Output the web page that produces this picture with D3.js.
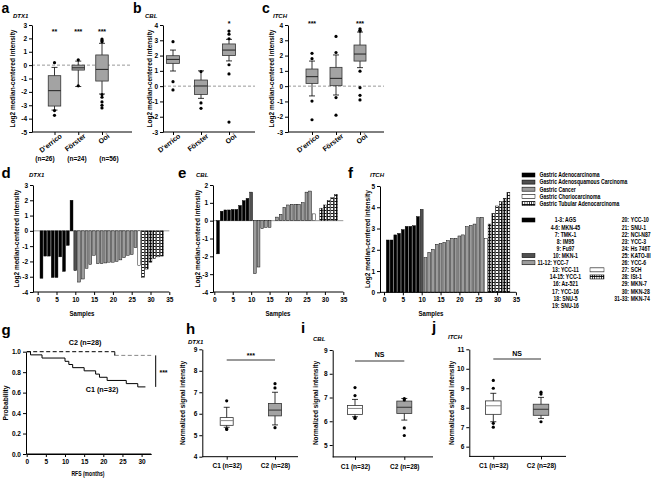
<!DOCTYPE html>
<html><head><meta charset="utf-8">
<script src="https://cdn.jsdelivr.net/npm/d3@7/dist/d3.min.js"></script>
<style>html,body{margin:0;padding:0;background:#fff}svg{display:block}</style>
</head><body>
<svg id="fig" width="667" height="478" xmlns="http://www.w3.org/2000/svg"></svg>
<script>
// ---------------- DATA ----------------
const cohorts = ["D'errico", "Förster", "Ooi"];
const cohortN = ["(n=26)", "(n=24)", "(n=56)"];
const dtx1CohortBox = [
  {lo:-3.36, q1:-3.06, med:-1.91, q3:-0.79, hi:-0.17, out:[0.18,-3.4,-3.75]},
  {lo:-1.6,  q1:-0.37, med:-0.2,  q3:0.0,   hi:0.3,   out:[0.4,-1.55]},
  {lo:-2.16, q1:-1.19, med:-0.32, q3:0.76,  hi:1.63,  out:[1.95,1.85,1.75,-2.2,-2.4,-2.75,-3.0,-3.2]}
];
const dtx1CohortSig = ["**", "***", "***"];
const cblCohortBox = [
  {lo:0.99,  q1:1.49,  med:1.75, q3:1.99, hi:2.36, out:[2.91,0.29,-0.25]},
  {lo:-0.8,  q1:-0.54, med:0.01, q3:0.4,  hi:1.0,  out:[0.95,-1.1,-1.45]},
  {lo:1.65,  q1:2.0,   med:2.36, q3:2.76, hi:3.06, out:[3.6,3.4,3.1,1.4,0.8,-2.35]}
];
const cblCohortSig = ["", "", "*"];
const itchCohortBox = [
  {lo:-0.64, q1:0.18, med:0.62, q3:1.12, hi:1.64, out:[2.15,1.8,-0.98,-2.2]},
  {lo:-0.58, q1:0.03, med:0.51, q3:1.23, hi:2.04, out:[3.25,2.2,-0.75,-1.9]},
  {lo:1.21,  q1:1.64, med:2.1,  q3:2.69, hi:3.54, out:[3.75,3.65,3.6,0.98,-0.1,-0.6,-0.9]}
];
const itchCohortSig = ["***", "", "***"];

const histTypes = ["Gastric Adenocarcinoma","Gastric Adenosquamous Carcinoma","Gastric Cancer","Gastric Choriocarcinoma","Gastric Tubular Adenocarcinoma"];
const sampleType = [0,0,0,0,0,0,0,0,0,1,2,2,2,2,2,2,2,2,2,2,2,2,2,2,2,2,3,4,4,4,4,4,4];
const dtx1Cell = [-3.1,-1.65,-1.65,-3.05,-3.05,-1.7,-2.65,-0.95,2.0,-2.6,-3.35,-3.15,-2.45,-2.2,-1.6,-2.15,-2.15,-2.1,-2.05,-2.05,-2.0,-1.9,-1.75,-1.6,-1.55,-1.1,-2.25,-3.05,-2.5,-2.05,-1.8,-1.7,-1.65];
const cblCell  = [-1.86,0.53,0.6,0.6,0.63,0.63,0.85,1.12,1.25,1.6,-2.97,-2.6,-0.45,-0.38,-0.38,0.0,0.2,0.36,0.75,0.88,0.92,0.92,0.92,1.01,1.6,1.66,0.38,0.0,0.7,0.88,1.12,1.3,1.48];
const itchCell = [2.46,2.46,2.7,2.77,2.95,3.1,3.1,3.13,3.56,3.9,1.63,1.88,2.02,2.26,2.3,2.35,2.43,2.54,2.54,2.65,2.7,3.09,3.15,3.21,3.51,3.53,2.54,3.21,3.71,4.06,4.26,4.42,4.7];
const sampleTicks = [0,5,10,15,20,25,30,35];

const cellLeft = [["1-3","AGS"],["4-6","MKN-45"],["7","TMK-1"],["8","IM95"],["9","Fu97"],["10","MKN-1"],["11-12","YCC-7"],["13","YCC-11"],["14-15","YCC-1"],["16","Az-521"],["17","YCC-16"],["18","SNU-5"],["19","SNU-16"]];
const cellRight = [["20","YCC-10"],["21","SNU-1"],["22","NCI-N87"],["23","YCC-3"],["24","Hs 746T"],["25","KATO-III"],["26","YCC-6"],["27","SCH"],["28","ISt-1"],["29","MKN-7"],["30","MKN-28"],["31-33","MKN-74"]];

const kmC1Time = [0,1,4,10,11,12,15,18,19,21,26,29,31];
const kmC1Surv = [1,0.969,0.938,0.906,0.875,0.844,0.813,0.781,0.75,0.719,0.688,0.656,0.656];
const kmC2Time = [0,23,32.5];
const kmC2Surv = [1,0.964,0.964];
const kmXTicks = [0,5,10,15,20,25,30];
const kmYTicks = [0,0.2,0.4,0.6,0.8,1.0];

const clusters = ["C1 (n=32)", "C2 (n=28)"];
const dtx1Cluster = [
  {lo:5.37, q1:5.46, med:5.68, q3:5.82, hi:6.3, out:[6.6,5.3,5.27]},
  {lo:5.48, q1:5.9,  med:6.17, q3:6.48, hi:7.0, out:[7.4,7.2,5.35]}
];
const cblCluster = [
  {lo:6.19, q1:6.29, med:6.54, q3:6.66, hi:6.92, out:[7.42,7.08,6.15,6.12]},
  {lo:6.05, q1:6.33, med:6.59, q3:6.85, hi:6.96, out:[6.95,6.9,5.72,5.4]}
];
const itchCluster = [
  {lo:7.28, q1:7.66, med:8.1,  q3:8.35, hi:8.74, out:[9.4,9.0,7.2,7.0]},
  {lo:7.45, q1:7.61, med:7.92, q3:8.18, hi:8.53, out:[8.8,8.7,7.28]}
];
const clusterSig = ["***", "NS", "NS"];

// ---------------- HELPERS ----------------
const F = '"Liberation Sans", Arial, Helvetica, sans-serif';
const svg = d3.select("#fig").attr("font-family", F);
const defs = svg.append("defs");
const pat = defs.append("pattern").attr("id","hatch").attr("patternUnits","userSpaceOnUse").attr("width",3).attr("height",3);
pat.append("rect").attr("width",3).attr("height",3).attr("fill","#fff");
pat.append("path").attr("d","M0,0.5H3M0.5,0V3").attr("stroke","#000").attr("stroke-width",0.9);
const typeFill = ["#000","#505050","#9c9c9c","#fff","url(#hatch)"];

function label(g, x, y, s, o = {}) {
  const t = g.append("text").attr("x", x).attr("y", y).text(s)
    .attr("font-size", o.size || 6.5).attr("font-weight", o.weight || "bold")
    .attr("text-anchor", o.anchor || "start").attr("fill", o.fill || "#000");
  if (o.italic) t.attr("font-style", "italic");
  if (o.rotate != null) t.attr("transform", `rotate(${o.rotate},${x},${y})`);
  if (o.len) t.attr("textLength", o.len).attr("lengthAdjust", "spacingAndGlyphs");
  return t;
}
function finish(a, size) {
  a.attr("font-family", F).attr("font-size", size || 6.5).attr("font-weight", "bold");
  a.selectAll("path.domain").attr("stroke", "#000").attr("stroke-width", 1);
  a.selectAll(".tick line").attr("stroke", "#000");
  a.selectAll(".tick text").attr("fill", "#000");
  return a;
}
function yAxis(g, y, x, ticks, fmt) {
  return finish(g.append("g").attr("transform", `translate(${x},0)`)
    .call(d3.axisLeft(y).tickValues(ticks).tickSize(3).tickSizeOuter(0).tickPadding(2).tickFormat(fmt || (d => String(d)))));
}
function hline(g, x1, x2, yv, stroke, w, dash) {
  const l = g.append("line").attr("x1", x1).attr("x2", x2).attr("y1", yv).attr("y2", yv)
    .attr("stroke", stroke || "#000").attr("stroke-width", w || 1);
  if (dash) l.attr("stroke-dasharray", dash);
  return l;
}
function drawBoxes(g, x, y, cats, stats, o) {
  stats.forEach((s, i) => {
    const cx = x(cats[i]);
    g.append("line").attr("x1", cx).attr("x2", cx).attr("y1", y(s.lo)).attr("y2", y(s.hi))
      .attr("stroke", "#000").attr("stroke-width", 0.8);
    [s.lo, s.hi].forEach(v => hline(g, cx - o.cap / 2, cx + o.cap / 2, y(v), "#000", 0.8));
    g.append("rect").attr("x", cx - o.w / 2).attr("width", o.w)
      .attr("y", y(s.q3)).attr("height", y(s.q1) - y(s.q3))
      .attr("fill", o.fill[i]).attr("stroke", "#333").attr("stroke-width", 0.8);
    hline(g, cx - o.w / 2, cx + o.w / 2, y(s.med), o.med[i], 1);
    g.selectAll(null).data(s.out).join("circle")
      .attr("cx", cx).attr("cy", v => y(v)).attr("r", 1.6).attr("fill", "#000");
  });
}

// ---------------- TOP ROW: cohort box plots ----------------
function cohortPanel(cfg) {
  const g = svg.append("g");
  const y = d3.scaleLinear().domain(cfg.domain).range([cfg.yBot, cfg.yTop]);
  const x = d3.scalePoint().domain(cohorts).range(cfg.catPos);
  hline(g, cfg.axisX, cfg.axisEnd, y(0), "#999", 1, "3,2");
  drawBoxes(g, x, y, cohorts, cfg.stats, {w: cfg.boxW, cap: 6, fill: ["#a3a3a3","#a3a3a3","#a3a3a3"], med: ["#222","#222","#222"]});
  yAxis(g, y, cfg.axisX, d3.range(cfg.domain[0], cfg.domain[1] + 1));
  hline(g, cfg.axisX, cfg.axisEnd, cfg.yBot, "#000", 1);
  const xa = finish(g.append("g").attr("transform", `translate(0,${cfg.yBot})`)
    .call(d3.axisBottom(x).tickSize(3).tickFormat("")));
  xa.select("path.domain").remove();
  cohorts.forEach((c, i) => {
    const cx = x(c);
    label(g, cx + 8, cfg.yBot + 5, c, {anchor: "end", rotate: -38, size: 7});
    if (cfg.sig[i]) label(g, cx, cfg.sigY, cfg.sig[i], {anchor: "middle", size: 7});
  });
  label(g, cfg.letterX, 13, cfg.letter, {size: 14});
  label(g, cfg.geneX, 17.5, cfg.gene, {size: 6, italic: true});
  label(g, cfg.titleX, (cfg.yTop + cfg.yBot) / 2, "Log2 median-centered intensity", {anchor: "middle", rotate: -90, size: 6.5});
  return {g, x};
}
const pa = cohortPanel({axisX: 32, axisEnd: 132, yTop: 25, yBot: 132, domain: [-5, 3], catPos: [54.5, 102], boxW: 12.5,
  stats: dtx1CohortBox, sig: dtx1CohortSig, sigY: 33.5, letter: "a", letterX: 1.5, gene: "DTX1", geneX: 13, titleX: 15});
[45, 77, 109].forEach((px, i) => label(pa.g, px, 161, cohortN[i], {anchor: "middle", size: 6.5}));
cohortPanel({axisX: 163, axisEnd: 255, yTop: 25, yBot: 132, domain: [-3, 4], catPos: [173, 229], boxW: 13,
  stats: cblCohortBox, sig: cblCohortSig, sigY: 26, letter: "b", letterX: 133, gene: "CBL", geneX: 145, titleX: 151.5});
cohortPanel({axisX: 288, axisEnd: 384, yTop: 25, yBot: 132, domain: [-3, 4], catPos: [312, 360], boxW: 12,
  stats: itchCohortBox, sig: itchCohortSig, sigY: 26, letter: "c", letterX: 262, gene: "ITCH", geneX: 273, titleX: 274});

// ---------------- MIDDLE ROW: cell line bars ----------------
function barPanel(cfg) {
  const g = svg.append("g");
  const x = d3.scaleLinear().domain([0, 35]).range([cfg.x0, cfg.x0 + 35 * cfg.step]);
  const y = d3.scaleLinear().domain(cfg.domain).range([cfg.yBot, cfg.yTop]);
  if (cfg.domain[0] < 0) hline(g, cfg.axisX, x(35), y(0), "#999", 1);
  const bw = cfg.step * 0.76;
  g.selectAll(null).data(cfg.values).join("rect")
    .attr("x", (v, i) => x(i + 1) - bw / 2).attr("width", bw)
    .attr("y", v => Math.min(y(v), y(0))).attr("height", v => Math.abs(y(v) - y(0)))
    .attr("fill", (v, i) => typeFill[sampleType[i]]).attr("stroke", "#000").attr("stroke-width", 0.45);
  yAxis(g, y, cfg.axisX, d3.range(cfg.domain[0], cfg.domain[1] + 1));
  hline(g, cfg.axisX, x(35), cfg.yBot, "#000", 1);
  const xa = finish(g.append("g").attr("transform", `translate(0,${cfg.yBot})`)
    .call(d3.axisBottom(x).tickValues(sampleTicks).tickSize(3).tickPadding(2).tickFormat(d => String(d))));
  xa.select("path.domain").remove();
  label(g, cfg.samplesX, 316, "Samples", {anchor: "middle", size: 6.5, len: 25});
  label(g, cfg.letterX, 178, cfg.letter, {size: 15});
  label(g, cfg.geneX, 176.5, cfg.gene, {size: 6, italic: true});
  label(g, cfg.titleX, (cfg.yTop + cfg.yBot) / 2, "Log2 median-centered intensity", {anchor: "middle", rotate: -90, size: 6.5});
}
barPanel({axisX: 33, x0: 37.7, step: 3.76, yTop: 185, yBot: 292, domain: [-4, 3], values: dtx1Cell,
  letter: "d", letterX: 1.5, gene: "DTX1", geneX: 29, titleX: 19, samplesX: 82});
barPanel({axisX: 213, x0: 214.3, step: 3.686, yTop: 185, yBot: 292, domain: [-4, 2], values: cblCell,
  letter: "e", letterX: 178, gene: "CBL", geneX: 196, titleX: 199.5, samplesX: 278});
barPanel({axisX: 380, x0: 384, step: 3.77, yTop: 186, yBot: 292.3, domain: [0, 5], values: itchCell,
  letter: "f", letterX: 348, gene: "ITCH", geneX: 370, titleX: 370.5, samplesX: 431});

// ---------------- LEGEND ----------------
(function legend() {
  const ox = 520, sx = 0.75;
  const g = svg.append("g").attr("transform", `translate(${ox},0) scale(${sx},1)`);
  const lx = px => (px - ox) / sx;
  const sw = (x1, x2, cy, t) => g.append("rect").attr("x", lx(x1)).attr("width", lx(x2) - lx(x1))
    .attr("y", cy - 2).attr("height", 4).attr("fill", typeFill[t]).attr("stroke", "#000").attr("stroke-width", 0.6);
  histTypes.forEach((h, i) => {
    const cy = 175 + 7.1 * i;
    sw(522, 535, cy, i);
    label(g, lx(539.5), cy + 2.4, h, {size: 6.8});
  });
  cellLeft.forEach((c, i) => {
    const cy = 220 + 7.12 * i;
    if (c[0] === "11-12") label(g, lx(537.5), cy + 2.4, c[0] + ": " + c[1], {size: 6.8});
    else label(g, lx(565.5), cy + 2.4, c[0] + ": " + c[1], {size: 6.8, anchor: "middle"});
  });
  [[0, 0], [5, 1], [6, 2]].forEach(([r, t]) => sw(522, 535, 220 + 7.12 * r, t));
  cellRight.forEach((c, i) => {
    const cy = 220 + 7.12 * i;
    label(g, lx(629), cy + 2.4, c[0] + ":", {size: 6.8, anchor: "end"});
    label(g, lx(630.8), cy + 2.4, c[1], {size: 6.8});
  });
  [[7, 3], [8, 4]].forEach(([r, t]) => sw(590, 604, 220 + 7.12 * r, t));
})();

// ---------------- PANEL g: Kaplan-Meier ----------------
(function km() {
  const g = svg.append("g");
  const x = d3.scaleLinear().domain([0, 32.5]).range([26.7, 26.7 + 32.5 * 3.83]);
  const y = d3.scaleLinear().domain([0, 1]).range([454, 351.7]);
  const line = d3.line().curve(d3.curveStepAfter).x(d => x(d[0])).y(d => y(d[1]));
  const c1 = kmC1Time.map((t, i) => [t, kmC1Surv[i]]);
  const c2 = kmC2Time.map((t, i) => [t, kmC2Surv[i]]);
  g.append("path").attr("d", line(c2.slice(0, 2).concat([[kmC2Time[1], kmC2Surv[0]]]))).attr("fill", "none")
    .attr("stroke", "#000").attr("stroke-width", 1).attr("stroke-dasharray", "4,2.5");
  g.append("path").attr("d", line(c2.slice(1))).attr("fill", "none")
    .attr("stroke", "#888").attr("stroke-width", 1).attr("stroke-dasharray", "4,2.5");
  g.append("path").attr("d", line(c1)).attr("fill", "none").attr("stroke", "#000").attr("stroke-width", 1);
  yAxis(g, y, 26, kmYTicks, d => d.toFixed(1));
  finish(g.append("g").attr("transform", "translate(0,454)")
    .call(d3.axisBottom(x).tickValues(kmXTicks).tickSize(3).tickSizeOuter(0).tickPadding(2).tickFormat(d => String(d))));
  hline(g, 26, x(32.5), 454, "#000", 1);
  const bx = 155.7;
  g.append("line").attr("x1", bx).attr("x2", bx).attr("y1", y(kmC2Surv[2])).attr("y2", y(kmC1Surv[kmC1Surv.length - 1]))
    .attr("stroke", "#000").attr("stroke-width", 1);
  label(g, 163.5, 374.5, "***", {anchor: "middle", size: 7});
  label(g, 85, 345, "C2 (n=28)", {anchor: "middle", size: 7.2});
  label(g, 102, 392, "C1 (n=32)", {anchor: "middle", size: 7.2});
  label(g, x(16), 476, "RFS (months)", {anchor: "middle", size: 6.8, len: 33});
  label(g, 7.5, 403, "Probability", {anchor: "middle", rotate: -90, size: 6.8});
  label(g, 1.5, 335, "g", {size: 15});
})();

// ---------------- PANELS h, i, j: cluster box plots ----------------
function clusterPanel(cfg) {
  const g = svg.append("g");
  const y = d3.scaleLinear().domain(cfg.domain).range([cfg.yBot, cfg.yTop]);
  const x = d3.scalePoint().domain(clusters).range(cfg.catPos);
  drawBoxes(g, x, y, clusters, cfg.stats, {w: cfg.boxW, cap: 6, fill: ["#fff", "#a3a3a3"], med: ["#888", "#333"]});
  yAxis(g, y, cfg.axisX, cfg.ticks);
  hline(g, cfg.axisX, cfg.axisEnd, cfg.yBot, "#000", 1);
  const xa = finish(g.append("g").attr("transform", `translate(0,${cfg.yBot})`)
    .call(d3.axisBottom(x).tickSize(3).tickPadding(4).tickFormat(d => d)));
  xa.select("path.domain").remove();
  hline(g, x(clusters[0]), x(clusters[1]), cfg.sigLineY, "#777", 1.5);
  label(g, (x(clusters[0]) + x(clusters[1])) / 2, cfg.sigTextY, cfg.sig, {anchor: "middle", size: 7});
  label(g, cfg.letterX, cfg.letterY, cfg.letter, {size: 15});
  label(g, cfg.geneX, cfg.geneY, cfg.gene, {size: 6, italic: true});
  label(g, cfg.titleX, 403, "Normalized signal intensity", {anchor: "middle", rotate: -90, size: 6.5});
}
clusterPanel({axisX: 202.3, axisEnd: 298, yTop: 349.3, yBot: 456.7, domain: [4, 9], ticks: [4,5,6,7,8,9],
  catPos: [226.7, 275], boxW: 13, stats: dtx1Cluster, sig: clusterSig[0], sigLineY: 360, sigTextY: 358,
  letter: "h", letterX: 186, letterY: 334, gene: "DTX1", geneX: 188, geneY: 344, titleX: 185});
clusterPanel({axisX: 332.7, axisEnd: 433, yTop: 350, yBot: 456.9, domain: [4.5, 9], ticks: [5,6,7,8,9],
  catPos: [355, 404.3], boxW: 15, stats: cblCluster, sig: clusterSig[1], sigLineY: 361, sigTextY: 357,
  letter: "i", letterX: 301, letterY: 333, gene: "CBL", geneX: 313, geneY: 341, titleX: 317.5});
clusterPanel({axisX: 469.3, axisEnd: 566, yTop: 349.3, yBot: 456.4, domain: [5.5, 11], ticks: [6,7,8,9,10,11],
  catPos: [493.3, 541], boxW: 15.5, stats: itchCluster, sig: clusterSig[2], sigLineY: 359, sigTextY: 355.5,
  letter: "j", letterX: 432, letterY: 332, gene: "ITCH", geneX: 448, geneY: 339, titleX: 454});
</script>
</body></html>
